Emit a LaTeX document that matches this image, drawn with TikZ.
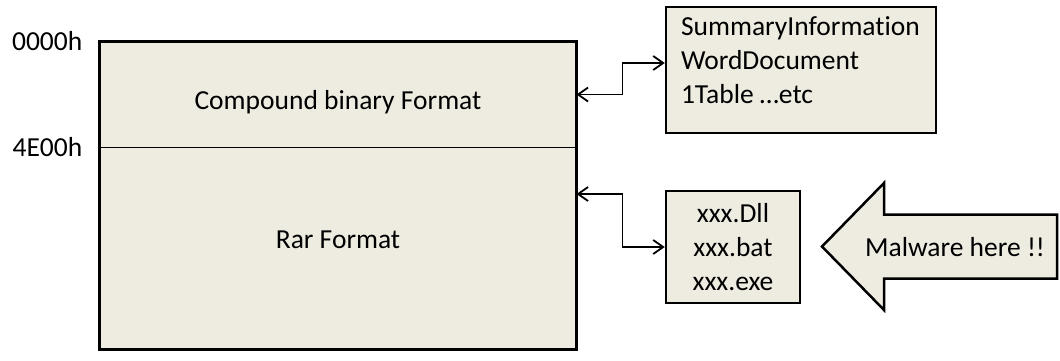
\documentclass[tikz,border=0pt]{standalone}
\usepackage{fontspec}
\setmainfont{Carlito}[Ligatures=NoCommon]
\usetikzlibrary{positioning,arrows.meta}
\definecolor{paper}{HTML}{EEECE1}

\begin{document}
\begin{tikzpicture}[x=1pt,y=-1pt]
    \tikzset{%
      part/.style={draw, fill=paper, line width=1pt, inner sep=0pt,
        minimum width=476pt},
      frame/.style={line width=3pt},
      info/.style={draw, fill=paper, line width=2.5pt, inner sep=0pt},
      addr/.style={inner sep=0pt},
      link/.style={{Straight Barb[length=10pt,width=14pt]}-{Straight Barb[length=10pt,width=14pt]},
        line width=1.8pt},
      big/.style={font=\fontsize{27.5}{34}\selectfont},
    }
    \useasboundingbox (0,0) rectangle (1060,360);
    \begin{scope}[big]
    % the file, two parts
    \node[part, minimum height=105pt] (cbf) at (338,94.5) {};
    \node[part, minimum height=202pt] (rar) at (338,248) {};
    \draw[frame] (cbf.north west) rectangle (rar.south east);
    \node (cbftext) at ([yshift=-8pt]cbf.center) {Compound binary Format};
    \node (rartext) at ([yshift=8pt]rar.center) {Rar Format};
    % offsets
    \node[addr, left=17pt of cbf.north west] (start) {0000h};
    \node[addr, left=17pt of cbf.south west] (split) {4E00h};

    % what is inside
    \node[info, inner xsep=15pt, inner ysep=10pt] (streams) at (801,70)
      {\parbox[c][106pt][t]{240pt}{SummaryInformation\\WordDocument\\1Table …etc}};
    \node[info, minimum width=134pt, minimum height=112pt, align=center] (files) at (733,247)
      {xxx.Dll\\xxx.bat\\xxx.exe};
    \draw[link] (cbf.east) -- ++(46,0) |- ([yshift=7pt]streams.west);
    \draw[link] ([yshift=54pt]rar.east) -- ++(46,0) |- (files.west);

    % big arrow
    \coordinate (tip) at (822,246.5);
    \draw[info] (tip) -- ++(62,-63.5) -- ++(0,31.5) -- ++(173,0) -- ++(0,64)
      -- ++(-173,0) -- ++(0,31.5) -- cycle;
    \node (malware) at (955,247) {Malware here !!};
    \end{scope}
\end{tikzpicture}
\end{document}
